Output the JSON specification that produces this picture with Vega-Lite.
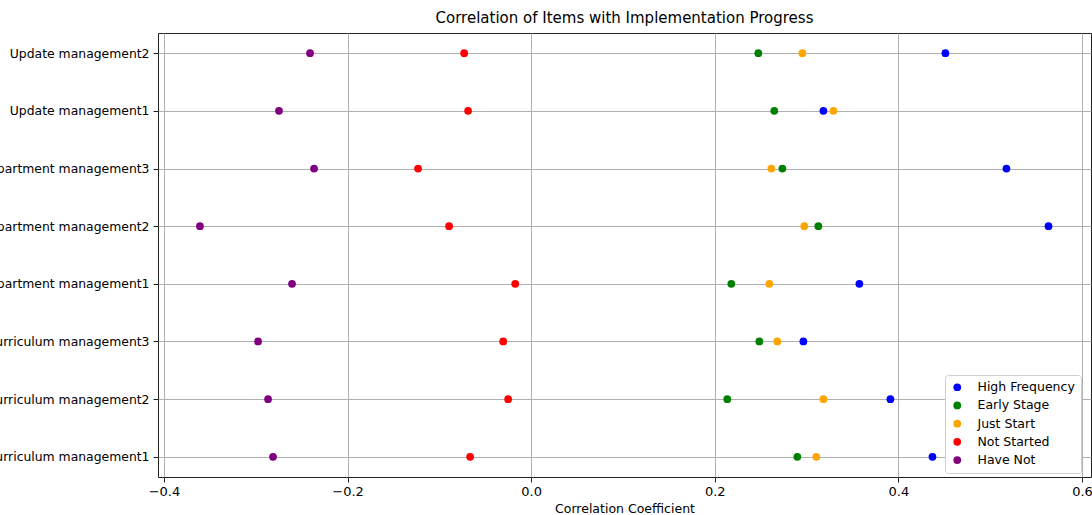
{
  "$schema": "https://vega.github.io/schema/vega-lite/v6.json",
  "width": 933,
  "height": 444,
  "autosize": {"type": "none"},
  "padding": {"left": 158, "top": 33, "right": 1, "bottom": 38},
  "background": "white",
  "title": {"text": "Correlation of Items with Implementation Progress", "fontSize": 15, "font": "DejaVu Sans", "fontWeight": "normal", "color": "black", "offset": 7, "anchor": "middle"},
  "config": {
    "view": {"stroke": "#222", "strokeWidth": 1},
    "font": "DejaVu Sans"
  },
  "data": {"values": [
    {"item": "Update management2", "group": "High Frequency", "r": 0.4512},
    {"item": "Update management2", "group": "Early Stage", "r": 0.2474},
    {"item": "Update management2", "group": "Just Start", "r": 0.2954},
    {"item": "Update management2", "group": "Not Started", "r": -0.073},
    {"item": "Update management2", "group": "Have Not", "r": -0.2409},
    {"item": "Update management1", "group": "High Frequency", "r": 0.3183},
    {"item": "Update management1", "group": "Early Stage", "r": 0.2648},
    {"item": "Update management1", "group": "Just Start", "r": 0.3292},
    {"item": "Update management1", "group": "Not Started", "r": -0.0687},
    {"item": "Update management1", "group": "Have Not", "r": -0.2747},
    {"item": "Department management3", "group": "High Frequency", "r": 0.5177},
    {"item": "Department management3", "group": "Early Stage", "r": 0.2736},
    {"item": "Department management3", "group": "Just Start", "r": 0.2616},
    {"item": "Department management3", "group": "Not Started", "r": -0.1232},
    {"item": "Department management3", "group": "Have Not", "r": -0.2365},
    {"item": "Department management2", "group": "High Frequency", "r": 0.5635},
    {"item": "Department management2", "group": "Early Stage", "r": 0.3128},
    {"item": "Department management2", "group": "Just Start", "r": 0.2975},
    {"item": "Department management2", "group": "Not Started", "r": -0.0894},
    {"item": "Department management2", "group": "Have Not", "r": -0.3608},
    {"item": "Department management1", "group": "High Frequency", "r": 0.3575},
    {"item": "Department management1", "group": "Early Stage", "r": 0.218},
    {"item": "Department management1", "group": "Just Start", "r": 0.2594},
    {"item": "Department management1", "group": "Not Started", "r": -0.0174},
    {"item": "Department management1", "group": "Have Not", "r": -0.2605},
    {"item": "Curriculum management3", "group": "High Frequency", "r": 0.2965},
    {"item": "Curriculum management3", "group": "Early Stage", "r": 0.2485},
    {"item": "Curriculum management3", "group": "Just Start", "r": 0.2681},
    {"item": "Curriculum management3", "group": "Not Started", "r": -0.0305},
    {"item": "Curriculum management3", "group": "Have Not", "r": -0.2975},
    {"item": "Curriculum management2", "group": "High Frequency", "r": 0.3913},
    {"item": "Curriculum management2", "group": "Early Stage", "r": 0.2136},
    {"item": "Curriculum management2", "group": "Just Start", "r": 0.3183},
    {"item": "Curriculum management2", "group": "Not Started", "r": -0.0251},
    {"item": "Curriculum management2", "group": "Have Not", "r": -0.2866},
    {"item": "Curriculum management1", "group": "High Frequency", "r": 0.4371},
    {"item": "Curriculum management1", "group": "Early Stage", "r": 0.2899},
    {"item": "Curriculum management1", "group": "Just Start", "r": 0.3106},
    {"item": "Curriculum management1", "group": "Not Started", "r": -0.0665},
    {"item": "Curriculum management1", "group": "Have Not", "r": -0.2812}
  ]},
  "mark": {"type": "circle", "size": 60, "opacity": 1},
  "encoding": {
    "x": {
      "field": "r", "type": "quantitative",
      "scale": {"domain": [-0.4065, 0.6098], "nice": false, "zero": false},
      "axis": {
        "values": [-0.4, -0.2, 0, 0.2, 0.4, 0.6],
        "format": ".1f",
        "title": "Correlation Coefficient",
        "titleFontSize": 12.5, "titleFontWeight": "normal", "titleColor": "black", "titlePadding": 4,
        "labelFontSize": 13, "labelColor": "black", "labelPadding": 3,
        "tickSize": 5, "tickColor": "#222", "domain": false,
        "grid": true, "gridColor": "#b0b0b0", "gridWidth": 1
      }
    },
    "y": {
      "field": "item", "type": "ordinal",
      "sort": ["Update management2", "Update management1", "Department management3", "Department management2", "Department management1", "Curriculum management3", "Curriculum management2", "Curriculum management1"],
      "scale": {"type": "point", "padding": 0.35},
      "axis": {
        "title": null,
        "labelFontSize": 12.4, "labelColor": "black", "labelPadding": 4, "labelLimit": 0,
        "tickSize": 5, "tickColor": "#222", "domain": false,
        "grid": true, "gridColor": "#b0b0b0", "gridWidth": 1
      }
    },
    "color": {
      "field": "group", "type": "nominal",
      "sort": ["High Frequency", "Early Stage", "Just Start", "Not Started", "Have Not"],
      "scale": {"domain": ["High Frequency", "Early Stage", "Just Start", "Not Started", "Have Not"], "range": ["blue", "green", "orange", "red", "purple"]},
      "legend": {
        "title": null, "orient": "none", "legendX": 787, "legendY": 342,
        "fillColor": "white", "strokeColor": "#d0d0d0", "cornerRadius": 3, "padding": 6,
        "symbolType": "circle", "symbolSize": 60, "symbolOpacity": 1,
        "labelFontSize": 12.5, "labelColor": "black", "labelOffset": 14, "rowPadding": 5.2
      }
    }
  }
}
